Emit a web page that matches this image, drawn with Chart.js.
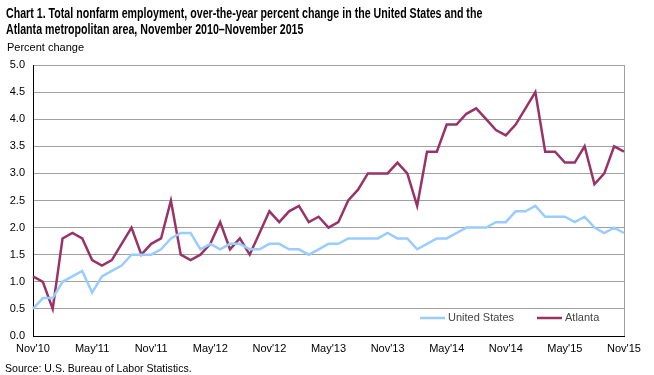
<!DOCTYPE html>
<html>
<head>
<meta charset="utf-8">
<script src="https://cdn.jsdelivr.net/npm/chart.js@4.4.1/dist/chart.umd.min.js"></script>
<style>
  body { margin: 0; background: #fff; font-family: "Liberation Sans", Arial, sans-serif; }
  #wrap { position: relative; width: 654px; height: 375px; }
  #title { position: absolute; left: 6px; top: 5px; font-size: 14px; font-weight: bold; line-height: 16px; color: #000;
    white-space: nowrap; transform: scaleX(0.76); transform-origin: 0 0; }
  #unit { position: absolute; left: 7px; top: 41px; font-size: 11px; color: #000; }
  #source { position: absolute; left: 5px; top: 362px; font-size: 11px; color: #000; transform: scaleX(0.96); transform-origin: 0 0; }
  canvas { position: absolute; left: 0; top: 0; }
</style>
</head>
<body>
<div id="wrap">
  <canvas id="chart" width="654" height="375"></canvas>
  <div id="title">Chart 1. Total nonfarm employment, over-the-year percent change in the United States and the<br>Atlanta metropolitan area, November 2010–November 2015</div>
  <div id="unit">Percent change</div>
  <div id="source">Source: U.S. Bureau of Labor Statistics.</div>
</div>
<script>
const months = ['Nov', 'Dec', 'Jan', 'Feb', 'Mar', 'Apr', 'May', 'Jun', 'Jul', 'Aug', 'Sep', 'Oct'];
const labels = [];
for (let i = 0; i < 61; i++) {
  const m = months[i % 12];
  const yr = 10 + Math.floor((i + 10) / 12);
  labels.push(m + "'" + yr);
}

const unitedStates = [0.5, 0.7, 0.7, 1.0, 1.1, 1.2, 0.8, 1.1, 1.2, 1.3, 1.5, 1.5,
  1.5, 1.6, 1.8, 1.9, 1.9, 1.6, 1.7, 1.6, 1.7, 1.7, 1.6, 1.6,
  1.7, 1.7, 1.6, 1.6, 1.5, 1.6, 1.7, 1.7, 1.8, 1.8, 1.8, 1.8,
  1.9, 1.8, 1.8, 1.6, 1.7, 1.8, 1.8, 1.9, 2.0, 2.0, 2.0, 2.1,
  2.1, 2.3, 2.3, 2.4, 2.2, 2.2, 2.2, 2.1, 2.2, 2.0, 1.9, 2.0,
  1.9];

const atlanta = [1.1, 1.0, 0.5, 1.8, 1.9, 1.8, 1.4, 1.3, 1.4, 1.7, 2.0, 1.5,
  1.7, 1.8, 2.5, 1.5, 1.4, 1.5, 1.7, 2.1, 1.6, 1.8, 1.5, 1.9,
  2.3, 2.1, 2.3, 2.4, 2.1, 2.2, 2.0, 2.1, 2.5, 2.7, 3.0, 3.0,
  3.0, 3.2, 3.0, 2.4, 3.4, 3.4, 3.9, 3.9, 4.1, 4.2, 4.0, 3.8,
  3.7, 3.9, 4.2, 4.5, 3.4, 3.4, 3.2, 3.2, 3.5, 2.8, 3.0, 3.5,
  3.4];

const font = { family: '"Liberation Sans", Arial, sans-serif', size: 11 };

// legend drawn inside the plot area, like the original
const insideLegend = {
  id: 'insideLegend',
  afterDraw(chart) {
    const ctx = chart.ctx;
    const y = 318;
    const items = [
      { x: 420, text: 'United States', color: '#99CCFF' },
      { x: 537, text: 'Atlanta', color: '#993366' }
    ];
    ctx.save();
    ctx.font = '11px "Liberation Sans", Arial, sans-serif';
    ctx.textBaseline = 'middle';
    items.forEach(it => {
      ctx.strokeStyle = it.color;
      ctx.lineWidth = 2.5;
      ctx.beginPath();
      ctx.moveTo(it.x, y);
      ctx.lineTo(it.x + 25, y);
      ctx.stroke();
      ctx.fillStyle = '#444';
      ctx.fillText(it.text, it.x + 28, y);
    });
    ctx.restore();
  }
};

new Chart(document.getElementById('chart'), {
  type: 'line',
  data: {
    labels: labels,
    datasets: [{
      label: 'United States',
      data: unitedStates,
      borderColor: '#99CCFF',
      borderWidth: 2.5,
      pointRadius: 0,
      tension: 0,
      fill: false
    }, {
      label: 'Atlanta',
      data: atlanta,
      borderColor: '#993366',
      borderWidth: 2.5,
      pointRadius: 0,
      tension: 0,
      fill: false
    }]
  },
  options: {
    responsive: false,
    animation: false,
    layout: { padding: { top: 65, right: 30, bottom: 0, left: 0 } },
    plugins: {
      legend: { display: false },
      tooltip: { enabled: false }
    },
    scales: {
      x: {
        offset: false,
        afterFit: s => { s.height = 39; },
        grid: {
          drawTicks: false,
          color: c => c.index === 60 ? '#A0A0A0' : 'rgba(0,0,0,0)'
        },
        border: { color: '#000', width: 1 },
        ticks: {
          autoSkip: false,
          maxRotation: 0,
          padding: 6,
          color: '#000',
          font: font,
          callback: function (v, i) { return i % 6 === 0 ? labels[i] : ''; }
        }
      },
      y: {
        min: 0,
        max: 5,
        afterFit: s => { s.width = 33; },
        grid: { drawTicks: false, color: '#A0A0A0' },
        border: { color: '#000', width: 1 },
        ticks: {
          stepSize: 0.5,
          padding: 8,
          color: '#000',
          font: font,
          callback: v => v.toFixed(1)
        }
      }
    }
  },
  plugins: [insideLegend]
});
</script>
</body>
</html>
